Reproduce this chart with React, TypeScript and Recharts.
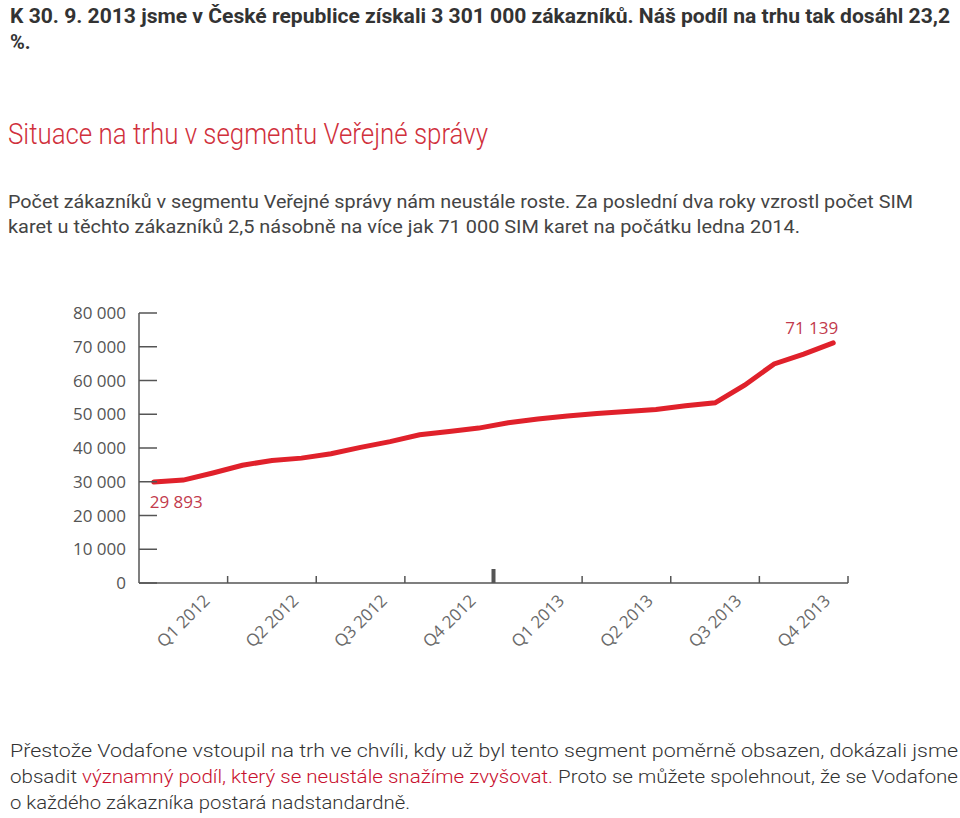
import React from 'react';
import { LineChart, Line, XAxis, YAxis } from 'recharts';

// Monthly customer counts (SIM cards), Jan 2012 .. Dec 2013
const months = [
  '2012-01', '2012-02', '2012-03', '2012-04', '2012-05', '2012-06',
  '2012-07', '2012-08', '2012-09', '2012-10', '2012-11', '2012-12',
  '2013-01', '2013-02', '2013-03', '2013-04', '2013-05', '2013-06',
  '2013-07', '2013-08', '2013-09', '2013-10', '2013-11', '2013-12',
];
const customers = [
  29893, 30500, 32600, 34900, 36300, 37000,
  38300, 40200, 41900, 43900, 44900, 45900,
  47500, 48600, 49500, 50200, 50800, 51400,
  52500, 53400, 58600, 64900, 67800, 71139,
];
const quarterLabels = ['Q1 2012', 'Q2 2012', 'Q3 2012', 'Q4 2012', 'Q1 2013', 'Q2 2013', 'Q3 2013', 'Q4 2013'];
const quarterTicks = [0, 3, 6, 9, 12, 15, 18, 21, 24];
const yTicks = [0, 10000, 20000, 30000, 40000, 50000, 60000, 70000, 80000];

const data = months.map((month, i) => ({ month, pos: i + 0.5, value: customers[i] }));

// layout
const CHART_W = 900;
const CHART_H = 380;
const MARGIN = { top: 23, right: 52, left: 0, bottom: 7 };
const Y_AXIS_W = 139;
const PLOT_W = CHART_W - MARGIN.left - MARGIN.right - Y_AXIS_W;
const QUARTER_PX = PLOT_W / quarterLabels.length;

const RED = '#e0212b';
const LABEL_RED = '#c23a4c';
const AXIS = '#555';
const FONT = '"Open Sans", "Noto Sans", sans-serif';

function fmt(v: number): string {
  return String(v).replace(/\B(?=(\d{3})+(?!\d))/g, ' ');
}

function QuarterTick(props: any) {
  const { x, y, payload } = props;
  const q = payload.value / 3;
  const label = quarterLabels[q];
  const lx = x + QUARTER_PX / 2;
  const ly = y + 38;
  return (
    <g>
      {q === 4 ? (
        <rect x={x - 2} y={y - 14} width={4} height={14} fill={AXIS} />
      ) : q > 0 ? (
        <line x1={x} y1={y} x2={x} y2={y - 7} stroke={AXIS} strokeWidth={1.5} />
      ) : null}
      {label && (
        <text
          x={lx}
          y={ly}
          dy="0.35em"
          textAnchor="middle"
          transform={`rotate(-45 ${lx} ${ly})`}
          fill="#6a6a6a"
          fontSize={17}
          fontFamily={FONT}
        >
          {label}
        </text>
      )}
    </g>
  );
}

function EndLabel(props: any) {
  const { x, y, index, value } = props;
  if (index === 0) {
    return (
      <text x={x - 4} y={y + 26} fill={LABEL_RED} fontSize={17} fontFamily={FONT}>
        {fmt(value)}
      </text>
    );
  }
  if (index === customers.length - 1) {
    return (
      <text x={x + 5} y={y - 9} textAnchor="end" fill={LABEL_RED} fontSize={17} fontFamily={FONT}>
        {fmt(value)}
      </text>
    );
  }
  return <g />;
}

function PageText() {
  const dark = '#333';
  return (
    <svg width={960} height={818} style={{ position: 'absolute', left: 0, top: 0 }}>
      <g fontFamily="Roboto, sans-serif" fill={dark}>
        <text x={10} y={23} fontSize={20} fontWeight="bold" textLength={940} lengthAdjust="spacingAndGlyphs">
          K 30. 9. 2013 jsme v České republice získali 3 301 000 zákazníků. Náš podíl na trhu tak dosáhl 23,2
        </text>
        <text x={10} y={49} fontSize={20} fontWeight="bold">%.</text>

        <text x={8} y={144} fontSize={29} fontWeight={300} fill="#d0303c" textLength={480} lengthAdjust="spacingAndGlyphs">
          Situace na trhu v segmentu Veřejné správy
        </text>

        <text x={8} y={208} fontSize={19} fill="#444" textLength={905} lengthAdjust="spacingAndGlyphs">
          Počet zákazníků v segmentu Veřejné správy nám neustále roste. Za poslední dva roky vzrostl počet SIM
        </text>
        <text x={8} y={233} fontSize={19} fill="#444" textLength={792} lengthAdjust="spacingAndGlyphs">
          karet u těchto zákazníků 2,5 násobně na více jak 71 000 SIM karet na počátku ledna 2014.
        </text>

        <text x={10} y={757} fontSize={19} fontWeight={300} textLength={948} lengthAdjust="spacingAndGlyphs">
          Přestože Vodafone vstoupil na trh ve chvíli, kdy už byl tento segment poměrně obsazen, dokázali jsme
        </text>
        <text x={10} y={783} fontSize={19} fontWeight={300} textLength={948} lengthAdjust="spacingAndGlyphs">
          obsadit <tspan fill="#c8102e">významný podíl, který se neustále snažíme zvyšovat.</tspan> Proto se můžete spolehnout, že se Vodafone
        </text>
        <text x={10} y={809} fontSize={19} fontWeight={300} textLength={400} lengthAdjust="spacingAndGlyphs">
          o každého zákazníka postará nadstandardně.
        </text>
      </g>
    </svg>
  );
}

export default function App() {
  return (
    <div style={{ position: 'absolute', left: 0, top: 0, width: 960, height: 818, background: '#fff' }}>
      <PageText />
      <div style={{ position: 'absolute', left: 0, top: 290 }}>
        <LineChart width={CHART_W} height={CHART_H} data={data} margin={MARGIN}>
          <XAxis
            dataKey="pos"
            type="number"
            domain={[0, 24]}
            ticks={quarterTicks}
            interval={0}
            height={80}
            tickLine={false}
            tickSize={0}
            tickMargin={0}
            axisLine={{ stroke: AXIS, strokeWidth: 1.5 }}
            tick={<QuarterTick />}
          />
          <YAxis
            domain={[0, 80000]}
            ticks={yTicks}
            interval={0}
            width={Y_AXIS_W}
            tickSize={-18}
            tickMargin={31}
            tickLine={{ stroke: AXIS, strokeWidth: 1.5 }}
            axisLine={{ stroke: AXIS, strokeWidth: 1.5 }}
            tick={{ fill: AXIS, fontSize: 17, fontFamily: FONT }}
            tickFormatter={fmt}
          />
          <Line
            dataKey="value"
            type="linear"
            stroke={RED}
            strokeWidth={5}
            strokeLinecap="round"
            dot={false}
            isAnimationActive={false}
            label={<EndLabel />}
          />
        </LineChart>
      </div>
    </div>
  );
}
